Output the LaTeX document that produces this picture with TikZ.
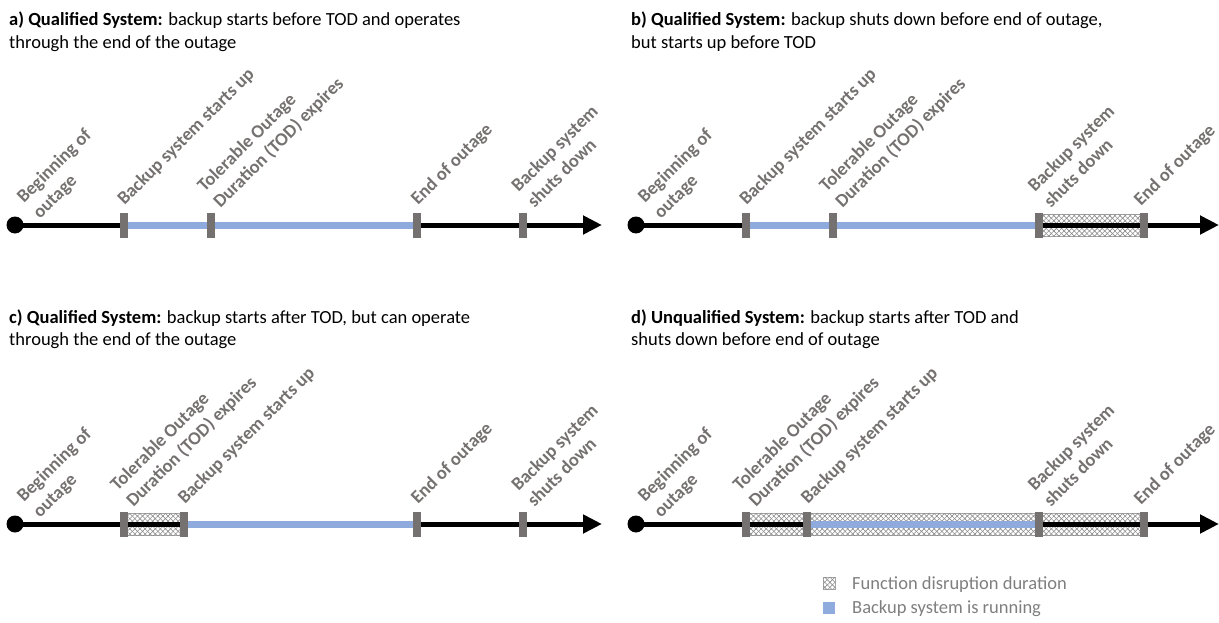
\documentclass[tikz,border=0pt]{standalone}
\usepackage{fontspec}
\setmainfont{Carlito}
\usetikzlibrary{arrows.meta,calc,patterns.meta,backgrounds}

\definecolor{runblue}{HTML}{8FAADC}
\definecolor{markgray}{HTML}{767171}
\definecolor{hatchgray}{HTML}{A6A6A6}
\definecolor{hatchline}{HTML}{8C8C8C}
\definecolor{legendgray}{HTML}{7F7F7F}

% stacked text: last line on the baseline (labels), first line on the baseline (titles)
\newcommand\lblstack[2]{\begin{tabular}[b]{@{}l@{}}#1\\#2\end{tabular}}
\newcommand\ttlstack[2]{\begin{tabular}[t]{@{}l@{}}#1\\#2\end{tabular}}

\tikzset{
  axisline/.style={line width=5pt, black, -{Triangle[length=19pt,width=18pt]}},
  runline/.style={line width=7pt, runblue},
  startdot/.style={circle, fill=black, minimum size=17pt, inner sep=0pt},
  tickmark/.style={rectangle, fill=markgray, minimum width=8pt, minimum height=25pt, inner sep=0pt},
  crosshatch fill/.style={
    postaction={pattern={Lines[angle=45,distance=3.6pt,line width=0.6pt]}, pattern color=hatchline},
    postaction={pattern={Lines[angle=-45,distance=3.6pt,line width=0.6pt]}, pattern color=hatchline}},
  hatchbox/.style={draw=hatchgray, line width=1pt, fill=white, crosshatch fill},
  evlabel/.style={rotate=45, anchor=base west, inner sep=0pt, text=markgray,
    font=\fontsize{18.5}{22.5}\selectfont\bfseries},
  paneltitle/.style={anchor=base west, inner sep=0pt, font=\fontsize{18.5}{22.5}\selectfont},
  legendtext/.style={anchor=base west, inner sep=0pt, text=legendgray, font=\fontsize{18.5}{22}\selectfont},
  legendhatch/.style={rectangle, minimum size=12pt, inner sep=0pt, draw=hatchgray, line width=1pt, fill=white, crosshatch fill},
  legendblue/.style={rectangle, minimum size=12pt, inner sep=0pt, fill=runblue},
}

\begin{document}
\begin{tikzpicture}[x=1pt,y=-1pt]
\useasboundingbox (0,0) rectangle (1219,623);

% ---------- titles ----------
\node[paneltitle] (title-a) at (9,26) {\ttlstack{\textbf{a) Qualified System:} backup starts before TOD and operates}{through the end of the outage}};
\node[paneltitle] (title-b) at (631,26) {\ttlstack{\textbf{b) Qualified System:} backup shuts down before end of outage,}{but starts up before TOD}};
\node[paneltitle] (title-c) at (9,323) {\ttlstack{\textbf{c) Qualified System:} backup starts after TOD, but can operate}{through the end of the outage}};
\node[paneltitle] (title-d) at (631,323) {\ttlstack{\textbf{d) Unqualified System:} backup starts after TOD and}{shuts down before end of outage}};

% ---------- panel a ----------
\node[startdot] (a-dot) at (15,225) {};
\node[tickmark] (a-t1) at (123.5,225) {};
\node[tickmark] (a-t2) at (210.5,225) {};
\node[tickmark] (a-t3) at (417,225) {};
\node[tickmark] (a-t4) at (522.5,225) {};
\coordinate (a-end) at (602,225);
\begin{pgfonlayer}{background}
  \draw[axisline] (a-dot.center) -- (a-end);
  \draw[runline] (a-t1.center) -- (a-t3.center);
\end{pgfonlayer}
\node[evlabel] (a-l0) at ($(a-dot)+(25,-5)$) {\lblstack{Beginning of}{outage}};
\node[evlabel] (a-l1) at ($(a-t1)+(1,-19)$) {Backup system starts up};
\node[evlabel] (a-l2) at ($(a-t2)+(10,-16)$) {\lblstack{Tolerable Outage}{Duration (TOD) expires}};
\node[evlabel] (a-l3) at ($(a-t3)+(1,-19)$) {End of outage};
\node[evlabel] (a-l4) at ($(a-t4)+(12,-16)$) {\lblstack{Backup system}{shuts down}};

% ---------- panel b ----------
\node[startdot] (b-dot) at (636,225) {};
\node[tickmark] (b-t1) at (745.5,225) {};
\node[tickmark] (b-t2) at (832.5,225) {};
\node[tickmark] (b-t3) at (1039,225) {};
\node[tickmark] (b-t4) at (1144,225) {};
\coordinate (b-end) at (1219,225);
\begin{pgfonlayer}{background}
  \path[hatchbox] ($(b-t3)+(0,-11)$) rectangle ($(b-t4)+(0,11)$);
  \draw[axisline] (b-dot.center) -- (b-end);
  \draw[runline] (b-t1.center) -- (b-t3.center);
\end{pgfonlayer}
\node[evlabel] (b-l0) at ($(b-dot)+(25,-5)$) {\lblstack{Beginning of}{outage}};
\node[evlabel] (b-l1) at ($(b-t1)+(1,-19)$) {Backup system starts up};
\node[evlabel] (b-l2) at ($(b-t2)+(10,-16)$) {\lblstack{Tolerable Outage}{Duration (TOD) expires}};
\node[evlabel] (b-l3) at ($(b-t3)+(12,-16)$) {\lblstack{Backup system}{shuts down}};
\node[evlabel] (b-l4) at ($(b-t4)+(-3,-18)$) {End of outage};

% ---------- panel c ----------
\node[startdot] (c-dot) at (15,524) {};
\node[tickmark] (c-t1) at (123.5,524) {};
\node[tickmark] (c-t2) at (184,524) {};
\node[tickmark] (c-t3) at (417,524) {};
\node[tickmark] (c-t4) at (522.5,524) {};
\coordinate (c-end) at (602,524);
\begin{pgfonlayer}{background}
  \path[hatchbox] ($(c-t1)+(0,-11)$) rectangle ($(c-t2)+(0,11)$);
  \draw[axisline] (c-dot.center) -- (c-end);
  \draw[runline] (c-t2.center) -- (c-t3.center);
\end{pgfonlayer}
\node[evlabel] (c-l0) at ($(c-dot)+(25,-5)$) {\lblstack{Beginning of}{outage}};
\node[evlabel] (c-l1) at ($(c-t1)+(10,-16)$) {\lblstack{Tolerable Outage}{Duration (TOD) expires}};
\node[evlabel] (c-l2) at ($(c-t2)+(1,-19)$) {Backup system starts up};
\node[evlabel] (c-l3) at ($(c-t3)+(1,-19)$) {End of outage};
\node[evlabel] (c-l4) at ($(c-t4)+(12,-16)$) {\lblstack{Backup system}{shuts down}};

% ---------- panel d ----------
\node[startdot] (d-dot) at (636,524) {};
\node[tickmark] (d-t1) at (746,524) {};
\node[tickmark] (d-t2) at (807,524) {};
\node[tickmark] (d-t3) at (1039,524) {};
\node[tickmark] (d-t4) at (1144,524) {};
\coordinate (d-end) at (1219,524);
\begin{pgfonlayer}{background}
  \path[hatchbox] ($(d-t1)+(0,-11)$) rectangle ($(d-t4)+(0,11)$);
  \draw[axisline] (d-dot.center) -- (d-end);
  \draw[runline] (d-t2.center) -- (d-t3.center);
\end{pgfonlayer}
\node[evlabel] (d-l0) at ($(d-dot)+(25,-5)$) {\lblstack{Beginning of}{outage}};
\node[evlabel] (d-l1) at ($(d-t1)+(10,-16)$) {\lblstack{Tolerable Outage}{Duration (TOD) expires}};
\node[evlabel] (d-l2) at ($(d-t2)+(1,-19)$) {Backup system starts up};
\node[evlabel] (d-l3) at ($(d-t3)+(12,-16)$) {\lblstack{Backup system}{shuts down}};
\node[evlabel] (d-l4) at ($(d-t4)+(-3,-18)$) {End of outage};

% ---------- legend ----------
\node[legendhatch] (key-hatch) at (829,583) {};
\node[legendblue] (key-blue) at (829,608) {};
\node[legendtext] (key-hatch-text) at (852,589) {Function disruption duration};
\node[legendtext] (key-blue-text) at (852,613) {Backup system is running};
\end{tikzpicture}
\end{document}
